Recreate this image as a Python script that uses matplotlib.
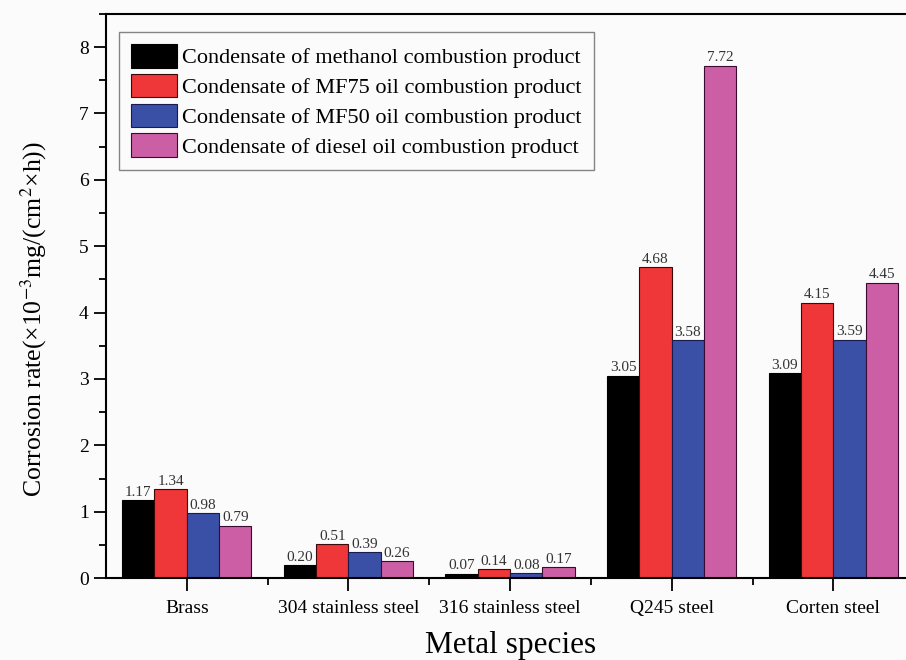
import matplotlib.pyplot as plt
import numpy as np
from matplotlib.ticker import MultipleLocator, FixedLocator

plt.rcParams['font.family'] = ['Liberation Serif', 'DejaVu Serif']
plt.rcParams['mathtext.fontset'] = 'stix'

# data
metals = ["Brass", "304 stainless steel", "316 stainless steel", "Q245 steel", "Corten steel"]
series_names = [
    "Condensate of methanol combustion product",
    "Condensate of MF75 oil combustion product",
    "Condensate of MF50 oil combustion product",
    "Condensate of diesel oil combustion product",
]
methanol = [1.17, 0.20, 0.07, 3.05, 3.09]
mf75 = [1.34, 0.51, 0.14, 4.68, 4.15]
mf50 = [0.98, 0.39, 0.08, 3.58, 3.59]
diesel = [0.79, 0.26, 0.17, 7.72, 4.45]

colors = ["#000000", "#EF3638", "#3A50A6", "#CC5EA6"]
edges = ["#000000", "#3a0a0a", "#1a1a50", "#3a0a30"]

fig = plt.figure(figsize=(9.06, 6.6), dpi=100)
fig.patch.set_facecolor("#fbfbfb")
ax = fig.add_axes([0.117, 0.124, 0.892, 0.855])
ax.set_facecolor("#fbfbfb")

x = np.arange(len(metals))
w = 0.2
for i, vals in enumerate([methanol, mf75, mf50, diesel]):
    pos = x + (i - 1.5) * w
    bars = ax.bar(pos, vals, width=w, color=colors[i], edgecolor=edges[i],
                  linewidth=0.8, label=series_names[i])
    for b, v in zip(bars, vals):
        ax.text(b.get_x() + b.get_width() / 2, v + 0.02, f"{v:.2f}",
                ha="center", va="bottom", fontsize=11, color="#333333")

ax.set_xlim(-0.5, 4.5)
ax.set_ylim(0, 8.5)
ax.set_xticks(x)
ax.set_xticklabels(metals, fontsize=14)
ax.xaxis.set_minor_locator(FixedLocator(x[:-1] + 0.5))
ax.yaxis.set_major_locator(MultipleLocator(1))
ax.yaxis.set_minor_locator(MultipleLocator(0.5))
ax.tick_params(axis="both", which="major", direction="out", length=9, width=1.3, labelsize=14)
ax.tick_params(axis="both", which="minor", direction="out", length=5, width=1.3)
ax.tick_params(axis="x", which="major", pad=7)
for s in ax.spines.values():
    s.set_linewidth(1.5)

ax.set_xlabel("Metal species", fontsize=22.5, labelpad=10)
ax.set_ylabel(r"Corrosion rate(×10$^{-3}$mg/(cm$^{2}$×h))", fontsize=18.5)
ax.yaxis.set_label_coords(-0.07, 0.46)

leg = ax.legend(loc="upper left", bbox_to_anchor=(0.016, 0.968), fontsize=16,
                frameon=True, fancybox=False, edgecolor="#666666",
                handlelength=2.05, handleheight=1.25, handletextpad=0.25,
                labelspacing=0.25, borderpad=0.55, borderaxespad=0)
leg.get_frame().set_facecolor("#fbfbfb")
leg.get_frame().set_linewidth(1.0)

fig.savefig("out.png", dpi=100, facecolor=fig.get_facecolor())
